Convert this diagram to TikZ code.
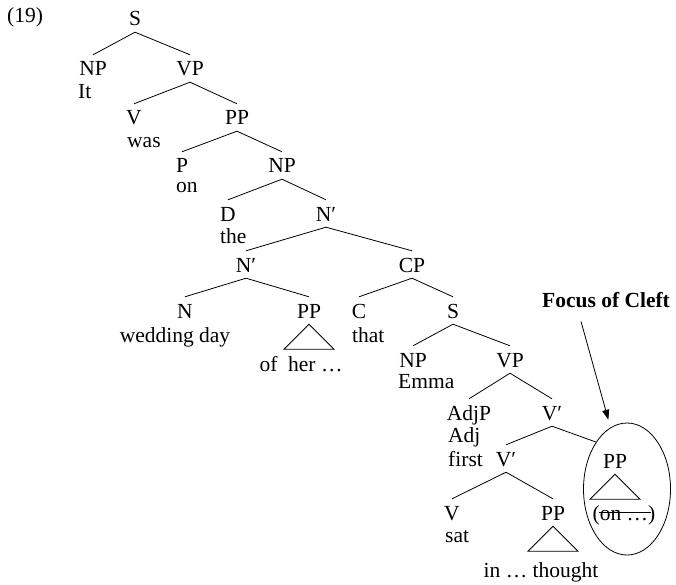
\documentclass[tikz,border=0pt]{standalone}
\usepackage{fontspec}
\setmainfont{Liberation Serif}
\usetikzlibrary{arrows.meta, shapes.geometric}
\tikzset{
  cat/.style={anchor=base, inner xsep=1pt, inner ysep=6pt,
    text height=15pt, text depth=0pt},
  leaf/.style={anchor=base west, inner sep=1pt},
  branch/.style={line width=0.8pt},
  tri/.style={line width=0.8pt, line join=miter},
  arr/.style={-{Triangle[length=10pt, width=7pt]}, line width=0.8pt}
}

\begin{document}
\begin{tikzpicture}[
  x=1pt, y=-1pt,
  font=\fontsize{21.5pt}{26pt}\selectfont,
  word/.style={anchor=base, inner sep=1pt}
]
\useasboundingbox (0,0) rectangle (676,585);

\node[leaf] (exnum) at (6,23) {(19)};

% categories
\node[cat] (s1) at (135,26) {S};
\node[cat] (np1) at (93,76) {NP};
\node[cat] (vp1) at (190,76) {VP};
\node[cat] (v1) at (134,125) {V};
\node[cat] (pp1) at (237,125) {PP};
\node[cat] (p1) at (182,173) {P};
\node[cat] (np2) at (282,173) {NP};
\node[cat] (d1) at (228,221) {D};
\node[cat] (nbar1) at (326,221) {N′};
\node[cat] (nbar2) at (246,272) {N′};
\node[cat] (cp1) at (412,272) {CP};
\node[cat] (n1) at (185,318) {N};
\node[cat] (pp2) at (309,318) {PP};
\node[cat] (c1) at (359,318) {C};
\node[cat] (s2) at (453,318) {S};
\node[cat] (np3) at (413,367) {NP};
\node[cat] (vp2) at (510,367) {VP};
\node[cat] (adjp) at (469,420) {AdjP};
\node[cat] (vbar1) at (552,420) {V′};
\node[cat] (vbar2) at (506,466) {V′};
\node[cat] (v2) at (452,520) {V};
\node[cat] (pp3) at (553,520) {PP};
\node[cat] (pp4) at (615,468) {PP};

% words
\node[leaf] (wit) at (77,99) {It};
\node[leaf] (wwas) at (126,148) {was};
\node[leaf] (won) at (175,193) {on};
\node[leaf] (wthe) at (219,243) {the};
\node[word] (wwed) at (175,342) {wedding day};
\node[word] (wher) at (301,371) {of\enspace her …};
\node[leaf] (wthat) at (351,342) {that};
\node[leaf] (wemma) at (397,388) {Emma};
\node[leaf] (wadj) at (447,442) {Adj};
\node[leaf] (wfirst) at (447,466) {first};
\node[leaf] (wsat) at (444,542) {sat};
\node[word] (wthought) at (541,577) {in … thought};
\node[word] (won2) at (624,520) {(on …)};
% struck out
\draw[branch] ([xshift=8pt, yshift=8pt]won2.base west) -- ([xshift=-6pt, yshift=8pt]won2.base east);

% focus
\node[draw, ellipse, line width=0.8pt, minimum width=87pt, minimum height=132pt,
  inner sep=0pt] (focus) at (627,489) {};
\node[word, font=\fontsize{21.5pt}{26pt}\selectfont\bfseries] (focuslbl) at (606,307) {Focus of Cleft};

% branches
\foreach \a/\b in {s1/np1, s1/vp1, vp1/v1, vp1/pp1, pp1/p1, pp1/np2,
  np2/d1, np2/nbar1, nbar1/nbar2, nbar1/cp1, nbar2/n1, nbar2/pp2,
  cp1/c1, cp1/s2, s2/np3, s2/vp2, vp2/adjp, vp2/vbar1, vbar1/vbar2,
  vbar2/v2, vbar2/pp3}
  \draw[branch] (\a.south) -- (\b.north);
\draw[branch] (vbar1.south) -- (focus.north west);

% triangles
\foreach \t in {pp2, pp3, pp4}
  \draw[tri] (\t.south) -- ++(-25,25) -- ++(50,0) -- cycle;

\draw[arr, shorten >=8pt] ([xshift=-25pt, yshift=-13pt]focuslbl.south) -- (focus.105);

\end{tikzpicture}
\end{document}
